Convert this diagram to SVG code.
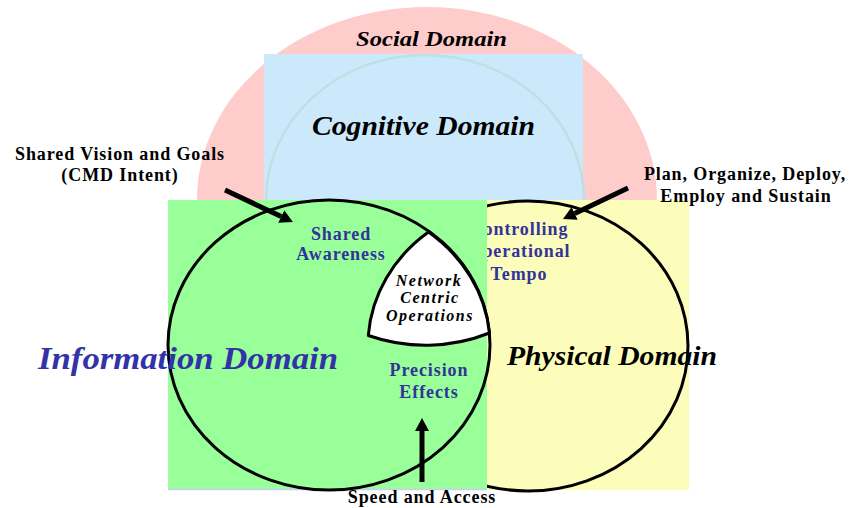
<svg xmlns="http://www.w3.org/2000/svg" width="851" height="508" viewBox="0 0 851 508">
<style>
.lbl{font-family:"Liberation Serif","Times New Roman",serif;font-weight:bold;font-size:18px;letter-spacing:0.9px;text-anchor:middle;fill:#000}
.blue{fill:#333399}
.big{font-family:"Liberation Serif","Times New Roman",serif;font-weight:bold;font-style:italic}
.nco{font-family:"Liberation Serif","Times New Roman",serif;font-weight:bold;font-style:italic;font-size:16px;letter-spacing:1.5px;text-anchor:middle;fill:#000}
.ring{fill:none;stroke:#000;stroke-width:3}
.arrow{stroke:#000;stroke-width:5;fill:none;marker-end:url(#head)}
</style>
<defs>
<marker id="head" markerUnits="userSpaceOnUse" markerWidth="13" markerHeight="14" refX="0" refY="7" orient="auto" viewBox="0 0 13 14">
<path d="M0,0 L13,7 L0,14 Z" fill="#000"/>
</marker>
</defs>
<rect width="851" height="508" fill="#fff"/>
<g id="social">
<ellipse cx="427" cy="200" rx="230" ry="193" fill="#ffcccc"/>
<text class="big" x="356" y="46" font-size="21" textLength="151" lengthAdjust="spacingAndGlyphs">Social Domain</text>
</g>
<g id="cognitive">
<rect x="264" y="54" width="319" height="150" fill="#cce9fb"/>
<ellipse cx="425" cy="200" rx="159" ry="145" fill="none" stroke="#bde0e2" stroke-width="2.5"/>
<text class="big" x="312" y="135" font-size="27" textLength="223" lengthAdjust="spacingAndGlyphs">Cognitive Domain</text>
</g>
<g id="physical">
<rect x="487" y="200" width="202" height="290" fill="#fcfcbb"/>
<ellipse class="ring" cx="528" cy="346" rx="160" ry="145"/>
<text class="lbl blue" x="519" y="235">Controlling</text>
<text class="lbl blue" x="519" y="257">Operational</text>
<text class="lbl blue" x="519" y="280">Tempo</text>
</g>
<g id="information">
<rect x="168" y="200" width="319" height="289" fill="#99ff99"/>
<line x1="168" y1="489.5" x2="487" y2="489.5" stroke="#ccccf4" stroke-width="1.5"/>
<ellipse class="ring" cx="329" cy="345" rx="161" ry="145"/>
<text class="lbl blue" x="341" y="240">Shared</text>
<text class="lbl blue" x="341" y="260">Awareness</text>
<text class="lbl blue" x="429" y="376">Precision</text>
<text class="lbl blue" x="429" y="398">Effects</text>
</g>
<g id="physical-label">
<text class="big" x="507" y="365" font-size="27" textLength="210" lengthAdjust="spacingAndGlyphs">Physical Domain</text>
</g>
<g id="information-label">
<text class="big" x="38" y="369" font-size="31" fill="#3333a8" textLength="300" lengthAdjust="spacingAndGlyphs">Information Domain</text>
</g>
<g id="nco">
<path d="M428.5,232 A161,145 0 0 1 489.4,333 A159,145 0 0 1 368.3,335.5 A160,145 0 0 1 428.5,232 Z" fill="#fff" stroke="#000" stroke-width="3" stroke-linejoin="round"/>
<text class="nco" x="429" y="286">Network</text>
<text class="nco" x="430" y="303">Centric</text>
<text class="nco" x="430" y="321">Operations</text>
</g>
<g id="label-vision">
<text class="lbl" x="120" y="160">Shared Vision and Goals</text>
<text class="lbl" x="120" y="181">(CMD Intent)</text>
</g>
<g id="label-plan">
<text class="lbl" x="745" y="180">Plan, Organize, Deploy,</text>
<text class="lbl" x="746" y="202">Employ and Sustain</text>
</g>
<g id="label-speed">
<text class="lbl" x="422" y="503">Speed and Access</text>
</g>
<g id="connectors">
<line class="arrow" x1="225" y1="190" x2="281.2" y2="216.5"/>
<line class="arrow" x1="628" y1="188" x2="574.7" y2="213.4"/>
<line class="arrow" x1="422" y1="482" x2="422" y2="431"/>
</g>
</svg>
